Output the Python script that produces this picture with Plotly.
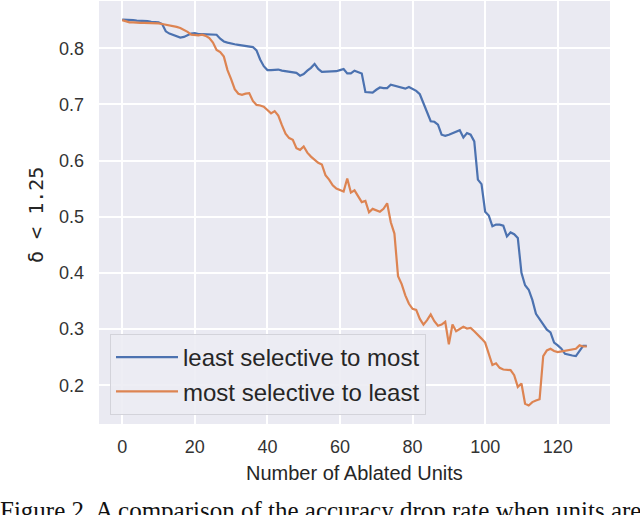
import plotly.graph_objects as go

units = list(range(0, 129))

least_to_most = [
    0.851, 0.851, 0.850, 0.850, 0.849, 0.849, 0.848, 0.848, 0.847, 0.847,
    0.846, 0.843, 0.830, 0.826, 0.824, 0.821, 0.819, 0.820, 0.823, 0.826,
    0.827, 0.825, 0.825, 0.825, 0.824, 0.825, 0.824, 0.817, 0.812, 0.810,
    0.808, 0.807, 0.806, 0.805, 0.804, 0.803, 0.802, 0.796, 0.780, 0.768,
    0.761, 0.761, 0.762, 0.762, 0.760, 0.759, 0.758, 0.757, 0.756, 0.751,
    0.754, 0.760, 0.765, 0.772, 0.763, 0.758, 0.758, 0.758, 0.758, 0.759,
    0.761, 0.763, 0.755, 0.755, 0.760, 0.758, 0.755, 0.722, 0.721, 0.721,
    0.726, 0.730, 0.729, 0.729, 0.735, 0.733, 0.731, 0.730, 0.728, 0.731,
    0.728, 0.724, 0.718, 0.703, 0.685, 0.670, 0.669, 0.664, 0.646, 0.644,
    0.646, 0.649, 0.651, 0.654, 0.641, 0.649, 0.646, 0.634, 0.566, 0.558,
    0.509, 0.502, 0.483, 0.486, 0.486, 0.484, 0.465, 0.472, 0.469, 0.462,
    0.400, 0.378, 0.370, 0.352, 0.327, 0.318, 0.310, 0.299, 0.294, 0.276,
    0.271, 0.265, 0.256, 0.254, 0.253, 0.252, 0.262, 0.270, 0.270,
]

most_to_least = [
    0.850, 0.848, 0.846, 0.846, 0.845, 0.845, 0.845, 0.845, 0.844, 0.844,
    0.844, 0.843, 0.842, 0.841, 0.840, 0.838, 0.836, 0.833, 0.829, 0.824,
    0.823, 0.823, 0.824, 0.822, 0.818, 0.810, 0.797, 0.793, 0.785, 0.761,
    0.745, 0.727, 0.719, 0.717, 0.719, 0.720, 0.706, 0.699, 0.698, 0.696,
    0.690, 0.684, 0.688, 0.680, 0.663, 0.648, 0.640, 0.637, 0.622, 0.619,
    0.625, 0.614, 0.607, 0.601, 0.596, 0.593, 0.574, 0.566, 0.556, 0.550,
    0.548, 0.545, 0.568, 0.543, 0.547, 0.537, 0.526, 0.528, 0.508, 0.514,
    0.512, 0.509, 0.514, 0.524, 0.490, 0.470, 0.394, 0.380, 0.360, 0.345,
    0.336, 0.334, 0.318, 0.308, 0.316, 0.326, 0.314, 0.306, 0.308, 0.313,
    0.273, 0.308, 0.296, 0.300, 0.304, 0.301, 0.302, 0.296, 0.290, 0.283,
    0.276, 0.256, 0.236, 0.239, 0.231, 0.228, 0.228, 0.227, 0.218, 0.197,
    0.203, 0.167, 0.164, 0.170, 0.173, 0.175, 0.252, 0.262, 0.265, 0.261,
    0.259, 0.260, 0.261, 0.263, 0.264, 0.265, 0.271, 0.269, 0.269,
]

series_names = ["least selective to most", "most selective to least"]
x_ticks = [0, 20, 40, 60, 80, 100, 120]
y_ticks = [0.2, 0.3, 0.4, 0.5, 0.6, 0.7, 0.8]
x_title = "Number of Ablated Units"
y_title = "δ < 1.25"
caption = "Figure 2. A comparison of the accuracy drop rate when units are"

W, H = 640, 515
ML, MR, MT, MB = 99, 30, 1, 91
PW = W - ML - MR
PH = H - MT - MB


def px_x(p):
    return (p - ML) / PW


def px_y(p):
    return (H - MB - p) / PH


fig = go.Figure()
fig.add_trace(go.Scatter(x=units, y=least_to_most, mode="lines",
                         name=series_names[0],
                         line=dict(color="#4C72B0", width=2.2)))
fig.add_trace(go.Scatter(x=units, y=most_to_least, mode="lines",
                         name=series_names[1],
                         line=dict(color="#DD8452", width=2.2)))

tick_font = dict(family="Liberation Sans, Arial, sans-serif", size=18, color="#333333")

fig.update_layout(
    width=W, height=H,
    margin=dict(l=ML, r=MR, t=MT, b=MB),
    paper_bgcolor="white",
    plot_bgcolor="#EAEAF2",
    showlegend=True,
    legend=dict(
        x=px_x(110), y=px_y(415), xanchor="left", yanchor="bottom",
        bgcolor="rgba(236,236,243,0.9)", bordercolor="#D3D3DA", borderwidth=1,
        font=dict(family="Liberation Sans, Arial, sans-serif", size=24, color="#262626"),
        tracegroupgap=0, itemwidth=62,
    ),
    xaxis=dict(
        range=[-6.4, 134.4], tickvals=x_ticks, showgrid=True,
        gridcolor="white", gridwidth=1.5, zeroline=False, showline=False,
        ticks="", tickfont=tick_font, ticklabelstandoff=10,
    ),
    yaxis=dict(
        range=[0.131, 0.884], tickvals=y_ticks, tickformat=".1f", showgrid=True,
        gridcolor="white", gridwidth=1.5, zeroline=False, showline=False,
        ticks="", tickfont=tick_font, ticklabelstandoff=14,
    ),
    annotations=[
        dict(text=x_title, xref="paper", yref="paper", x=0.5, y=px_y(473),
             xanchor="center", yanchor="middle", showarrow=False,
             font=dict(family="Liberation Sans, Arial, sans-serif", size=20, color="#262626")),
        dict(text=y_title, xref="paper", yref="paper", x=px_x(36), y=px_y(215),
             xanchor="center", yanchor="middle", showarrow=False, textangle=-90,
             font=dict(family="DejaVu Sans Mono, monospace", size=20, color="#262626")),
        dict(text=caption, xref="paper", yref="paper", x=px_x(-2), y=px_y(495),
             xanchor="left", yanchor="top", showarrow=False,
             font=dict(family="Liberation Serif, Times New Roman, serif", size=25, color="#111111")),
    ],
)

fig.write_html("out.html", config={"displayModeBar": False},
               post_script="document.body.style.margin='0';")
